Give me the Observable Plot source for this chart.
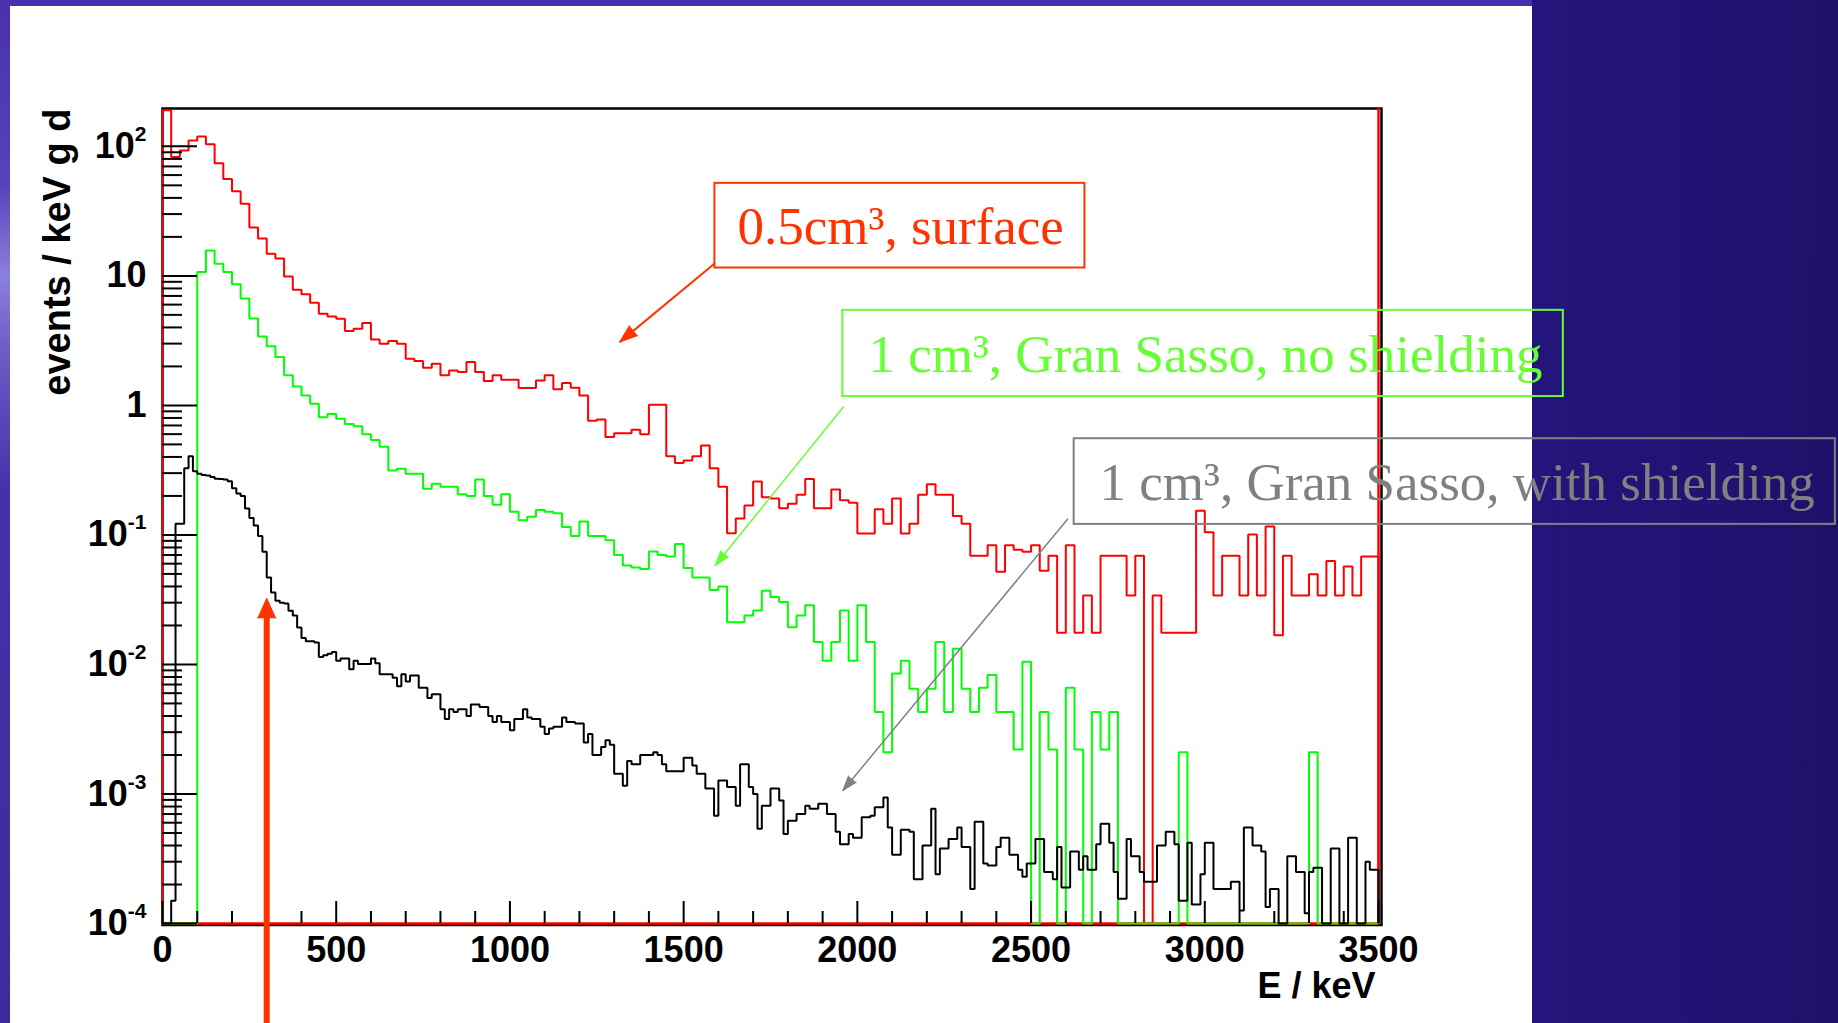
<!DOCTYPE html>
<html>
<head>
<meta charset="utf-8">
<script src="https://cdn.jsdelivr.net/npm/d3@7"></script>
<script src="https://cdn.jsdelivr.net/npm/@observablehq/plot@0.6"></script>
<style>
html, body { margin: 0; padding: 0; overflow: hidden; width: 1838px; height: 1023px; background: #20136e; }
#bg-right { position: absolute; left: 1532px; top: 0; width: 306px; height: 1023px; background: linear-gradient(90deg, #23157b 0%, #201372 60%, #1d116a 100%); }
#bg-top { position: absolute; left: 0; top: 0; width: 1532px; height: 6px; background: #4a30ae; }
#bg-left { position: absolute; left: 0; top: 0; width: 10px; height: 1023px; background: linear-gradient(180deg, #4a30ae 0%, #5444bb 18%, #8a80dc 27%, #6c5ec9 34%, #4631a9 48%, #3d2b9d 100%); }
#panel { position: absolute; left: 10px; top: 6px; width: 1522px; height: 1017px; background: #ffffff; }
#chart { position: absolute; left: 0; top: 0; }
</style>
</head>
<body>
<div id="bg-right"></div>
<div id="bg-top"></div>
<div id="bg-left"></div>
<div id="panel"></div>
<div id="chart"></div>
<script>
// ---------------- data (events / keV g d) ----------------
const binWidthWide = 25;     // keV, red & green histograms
const binWidthFine = 12.5;   // keV, black histogram

// 0.5 cm^3, surface (red), 25 keV bins from 0 to 3500 keV
const surface = [
  190, 82.6, 93, 111,      119, 104, 74, 56,       45, 36, 23.6, 19.4,     14.8, 13.6, 9.9, 7.8,
  7.2, 6.2, 5.1, 4.86,     4.67, 3.75, 3.91, 4.32, 3.22, 2.99, 3.14, 2.99, 2.29, 2.20, 1.95, 2.10,
  1.71, 1.86, 1.81, 2.16,  1.81, 1.54, 1.71, 1.58, 1.58, 1.36, 1.36, 1.56, 1.71, 1.33, 1.49, 1.37,
  1.19, 0.76, 0.78, 0.57,  0.61, 0.61, 0.65, 0.60, 1.01, 1.01, 0.405, 0.359, 0.376, 0.405, 0.49, 0.327,
  0.235, 0.103, 0.134, 0.169, 0.258, 0.195, 0.191, 0.161, 0.174, 0.204, 0.27, 0.161, 0.161, 0.224, 0.185, 0.177,
  0.1025, 0.1025, 0.158, 0.122, 0.191, 0.1025, 0.122, 0.204, 0.246, 0.204, 0.204, 0.14, 0.122, 0.069, 0.069, 0.0834,
  0.052, 0.0834, 0.077, 0.074, 0.0834, 0.053, 0.069, 0.0176, 0.0834, 0.0176, 0.034, 0.0176, 0.069, 0.069, 0.069, 0.034,
  0.069, 0, 0.034, 0.0176, 0.0176, 0.0176, 0.0176, 0.154, 0.105, 0.034, 0.069, 0.069, 0.034, 0.1007, 0.034, 0.116,
  0.0168, 0.069, 0.034, 0.034, 0.0497, 0.034, 0.0628, 0.034, 0.057, 0.034, 0.068, 0.068
];

// 1 cm^3, Gran Sasso, no shielding (green), 25 keV bins
const noShielding = [
  0, 0, 0, 0,              10.7, 15.7, 12.4, 10.7, 8.6, 6.7, 4.68, 3.41, 2.86, 2.36, 1.71, 1.40,
  1.19, 1.03, 0.81, 0.86,  0.79, 0.72, 0.69, 0.60, 0.54, 0.48, 0.315, 0.324, 0.297, 0.297, 0.227, 0.248,
  0.236, 0.236, 0.206, 0.20, 0.268, 0.20, 0.171, 0.206, 0.151, 0.13, 0.138, 0.156, 0.151, 0.147, 0.115, 0.098,
  0.127, 0.098, 0.098, 0.091, 0.070, 0.058, 0.056, 0.0546, 0.0745, 0.070, 0.068, 0.085, 0.0555, 0.047, 0.047, 0.0375,
  0.040, 0.0212, 0.0212, 0.0239, 0.0261, 0.037, 0.0331, 0.0303, 0.0194, 0.0239, 0.0286, 0.0149, 0.0107, 0.0149, 0.0261, 0.0107,
  0.0286, 0.0149, 0.0043, 0.0021, 0.0085, 0.0107, 0.0065, 0.0043, 0.0065, 0.0149, 0.0043, 0.0132, 0.0065, 0.0043, 0.0066, 0.0083,
  0.0043, 0.0043, 0.0022, 0.0105, 0, 0.0043, 0.0022, 0, 0.0066, 0.0022, 0, 0.0043, 0.0022, 0.0043, 0, 0,
  0, 0, 0, 0,              0, 0.0021, 0, 0,        0, 0, 0, 0,             0, 0, 0, 0,
  0, 0, 0, 0,              0.0021, 0, 0, 0,        0, 0, 0, 0
];

// 1 cm^3, Gran Sasso, with shielding (black), 12.5 keV bins
const withShielding = [
  0, 0, 0.00015, 0.122, 0.122, 0.327, 0.405, 0.31,
  0.297, 0.29, 0.287, 0.28, 0.272, 0.27, 0.268, 0.26,
  0.229, 0.209, 0.2, 0.16, 0.135, 0.118, 0.098, 0.074,
  0.047, 0.036, 0.031, 0.03, 0.0296, 0.026, 0.0239, 0.0193,
  0.016, 0.0151, 0.0151, 0.0148, 0.0114, 0.0118, 0.0121, 0.0125,
  0.0107, 0.0111, 0.0111, 0.0092, 0.0107, 0.0101, 0.0101, 0.0101,
  0.0111, 0.0102, 0.0084, 0.0084, 0.0084, 0.0079, 0.0068, 0.0084,
  0.0074, 0.0082, 0.0082, 0.0066, 0.0066, 0.0055, 0.0059, 0.0059,
  0.0045, 0.0038, 0.0045, 0.0043, 0.0045, 0.0045, 0.0040, 0.0049,
  0.0049, 0.0047, 0.0047, 0.0040, 0.0036, 0.0040, 0.0036, 0.0036,
  0.0031, 0.0038, 0.0038, 0.0045, 0.0039, 0.0038, 0.0038, 0.0033,
  0.0029, 0.0032, 0.0033, 0.0033, 0.0039, 0.0036, 0.0036, 0.0035,
  0.0035, 0.0025, 0.0029, 0.0020, 0.0020, 0.0023, 0.0026, 0.0024,
  0.00143, 0.00143, 0.00116, 0.0018, 0.0017, 0.0017, 0.0020, 0.0020,
  0.0020, 0.0021, 0.0020, 0.0017, 0.0015, 0.0015, 0.0015, 0.0015,
  0.0019, 0.0019, 0.00166, 0.00143, 0.00143, 0.0011, 0.0011, 0.00068,
  0.00127, 0.00127, 0.00113, 0.00113, 0.00081, 0.0017, 0.0017, 0.00113,
  0.001, 0.00054, 0.00081, 0.00081, 0.0011, 0.0011, 0.00089, 0.00049,
  0.00062, 0.00062, 0.0007, 0.0007, 0.00081, 0.00077, 0.00077, 0.00084,
  0.00084, 0.0007, 0.0007, 0.00051, 0.00041, 0.00041, 0.00049, 0.00046,
  0.00046, 0.00066, 0.00066, 0.00068, 0.00079, 0.00079, 0.00094, 0.00055,
  0.00034, 0.00034, 0.00053, 0.00053, 0.00051, 0.00022, 0.00022, 0.0004,
  0.0004, 0.00077, 0.00024, 0.00038, 0.00038, 0.00045, 0.00045, 0.00055,
  0.00039, 0.00039, 0.000185, 0.00061, 0.00061, 0.00029, 0.00028, 0.00028,
  0.00039, 0.00046, 0.00046, 0.00034, 0.00034, 0.00026, 0.00023, 0.00029,
  0.00029, 0.00045, 0.00045, 0.00025, 0.00025, 0.00022, 0.00039, 0.00019,
  0.00019, 0.00036, 0.00036, 0.00026, 0.00033, 0.00026, 0.00026, 0.00041,
  0.00059, 0.00059, 0.00042, 0.00025, 0.000155, 0.000155, 0.00045, 0.00033,
  0.00033, 0.00025, 0.00021, 0.00021, 0.00021, 0.0004, 0.0004, 0.00051,
  0.00051, 0.00041, 0.00015, 0.00015, 0.00042, 0.00014, 0.00014, 0.00024,
  0.00042, 0.00042, 0.000185, 0.000185, 0.000185, 0.000185, 0.00021, 0.00021,
  0.000126, 0.00055, 0.00055, 0.0004, 0.0004, 0.00036, 0.000134, 0.000185,
  0.000185, 0, 0, 0.00033, 0.00033, 0.00025, 0.00025, 0.00012,
  0.00025, 0.00027, 0.00027, 0, 0, 0.00038, 0.00038, 0,
  0, 0.00046, 0.00046, 0, 0, 0.0003, 0.00026, 0.00026
];

// axis ticks and labels
const xTickValues = [0, 500, 1000, 1500, 2000, 2500, 3000, 3500];
const xTickLabels = ["0", "500", "1000", "1500", "2000", "2500", "3000", "3500"];
const yTickValues = [1e-4, 1e-3, 1e-2, 1e-1, 1, 10, 100];
const yTickLabels = ["10^-4", "10^-3", "10^-2", "10^-1", "1", "10", "10^2"];
const xTitle = "E / keV";
const yTitle = "events / keV g d";

// callout texts
const calloutTexts = ["0.5cm³, surface", "1 cm³, Gran Sasso, no shielding", "1 cm³, Gran Sasso, with shielding"];

// ---------------- layout / styling ----------------
const W = 1838, H = 1023;
const ML = 162, MR = 460, MT = 108, MB = 100;
const X_MAX = 3500, Y_MIN = 1e-4, Y_MAX = 196;
const plotW = W - ML - MR, plotH = H - MT - MB;
const sans = "'Liberation Sans', Arial, Helvetica, sans-serif";
const serif = "'Liberation Serif', 'Times New Roman', serif";

// callout geometry, in data units (keV, events / keV g d)
const callouts = [
  {text: calloutTexts[0], color: "#ff3300", box: [1590, 2655, 51.8, 11.5], at: [1655, 23.7],
   from: [1590, 12.5], to: [1316, 3.08], lw: 2, head: [18, 6.5]},
  {text: calloutTexts[1], color: "#66ff33", box: [1958, 4032, 5.42, 1.17], at: [2032, 2.445],
   from: [1961, 0.982], to: [1591, 0.0581], lw: 1.5, head: [15, 5]},
  {text: calloutTexts[2], color: "#808080", box: [2624, 4815, 0.553, 0.1206], at: [2697, 0.25],
   from: [2606, 0.1334], to: [1958, 0.00106], lw: 1.5, head: [15, 5]}
];
const marker = {x: 300, tip: 0.0324, base: 0.0235, bottom: 1.69e-5, color: "#ff3300"};

const xs = Plot.scale({x: {domain: [0, X_MAX], range: [ML, W - MR]}});
const ys = Plot.scale({y: {type: "log", domain: [Y_MIN, Y_MAX], range: [H - MB, MT]}});
for (const c of callouts) {
  const dx = xs.apply(c.to[0]) - xs.apply(c.from[0]);
  const dy = ys.apply(c.to[1]) - ys.apply(c.from[1]);
  c.angle = Math.atan2(dx, -dy) * 180 / Math.PI;
}

function histPoints(values, width) {
  const pts = [{x: 0, y: Y_MIN}];
  values.forEach((v, i) => pts.push({x: i * width, y: Math.max(v, Y_MIN)}));
  const end = values.length * width;
  pts.push({x: end, y: Math.max(values[values.length - 1], Y_MIN)});
  pts.push({x: end, y: Y_MIN});
  return pts;
}

const xMinor = d3.range(100, X_MAX, 100).filter(v => v % 500 !== 0);
const yMinor = [];
for (let e = -4; e <= 2; e++) for (let m = 2; m <= 9; m++) {
  const v = m * Math.pow(10, e);
  if (v < Y_MAX) yMinor.push(v);
}

const histStyle = {x: "x", y: "y", curve: "step-after", strokeWidth: 2, strokeLinejoin: "miter", strokeLinecap: "butt"};

const marks = [
  Plot.frame({stroke: "black", strokeWidth: 2.5, insetRight: -3, insetBottom: -1.5}),
  Plot.ruleX([X_MAX], {stroke: "#ff0000", strokeWidth: 2.5}),
  Plot.ruleY([Y_MIN], {stroke: "#ff0000", strokeWidth: 2.5}),
  Plot.line(histPoints(surface, binWidthWide), {...histStyle, stroke: "#ff0000"}),
  Plot.line(histPoints(noShielding, binWidthWide), {...histStyle, stroke: "#00ff00"}),
  Plot.line(histPoints(withShielding, binWidthFine), {...histStyle, stroke: "#000000"}),
  Plot.tickX(xTickValues, {x: d => d, stroke: "black", strokeWidth: 2, insetTop: plotH - 22}),
  Plot.tickX(xMinor, {x: d => d, stroke: "black", strokeWidth: 2, insetTop: plotH - 12}),
  Plot.tickY(yTickValues, {y: d => d, stroke: "black", strokeWidth: 2, insetRight: plotW - 35}),
  Plot.tickY(yMinor, {y: d => d, stroke: "black", strokeWidth: 2, insetRight: plotW - 20}),
  Plot.axisX({ticks: xTickValues, tickFormat: d => xTickLabels[xTickValues.indexOf(d)], tickSize: 0, tickPadding: 13,
    fontSize: 36, fontWeight: "bold", fontFamily: sans, label: null}),
  Plot.axisY({ticks: yTickValues, tickFormat: d => yTickLabels[yTickValues.indexOf(d)], tickSize: 0, tickPadding: 16,
    fontSize: 36, fontWeight: "bold", fontFamily: sans, label: null}),
  Plot.text([yTitle], {text: d => d, frameAnchor: "top-left", rotate: -90, textAnchor: "end", lineAnchor: "middle",
    dx: -105, fontSize: 38, fontWeight: "bold", fontFamily: sans}),
  Plot.text([xTitle], {text: d => d, frameAnchor: "bottom-right", textAnchor: "end", lineAnchor: "top",
    dx: -3, dy: 49, fontSize: 36, fontWeight: "bold", fontFamily: sans})
];

for (const c of callouts) {
  marks.push(
    Plot.rect([c], {x1: d => d.box[0], x2: d => d.box[1], y1: d => d.box[2], y2: d => d.box[3],
      fill: "none", stroke: c.color, strokeWidth: 2}),
    Plot.text([c], {x: d => d.at[0], y: d => d.at[1], text: d => d.text, textAnchor: "start", lineAnchor: "middle",
      fill: c.color, fontSize: 53, fontFamily: serif}),
    Plot.link([c], {x1: d => d.from[0], y1: d => d.from[1], x2: d => d.to[0], y2: d => d.to[1],
      stroke: c.color, strokeWidth: c.lw}),
    Plot.vector([c], {x: d => d.to[0], y: d => d.to[1], rotate: c.angle, length: c.head[0], r: c.head[1],
      anchor: "end", shape: "spike", fill: c.color, stroke: c.color, strokeWidth: 1})
  );
}
marks.push(
  Plot.ruleX([marker], {x: "x", y1: "bottom", y2: "base", stroke: marker.color, strokeWidth: 6}),
  Plot.vector([marker], {x: "x", y: "tip", rotate: 0, length: 20, r: 9, anchor: "end", shape: "spike",
    fill: marker.color, stroke: marker.color, strokeWidth: 1})
);

const chart = Plot.plot({
  width: W, height: H,
  marginLeft: ML, marginRight: MR, marginTop: MT, marginBottom: MB,
  style: {background: "transparent", overflow: "visible", fontFamily: sans},
  x: {domain: [0, X_MAX]},
  y: {type: "log", domain: [Y_MIN, Y_MAX]},
  marks
});

// superscript exponents in the y tick labels
chart.querySelectorAll("text").forEach(t => {
  const m = t.textContent.match(/^(\d+)\^(.+)$/);
  if (m && t.children.length === 0) {
    t.textContent = m[1];
    const ts = document.createElementNS("http://www.w3.org/2000/svg", "tspan");
    ts.setAttribute("dy", "-17");
    ts.setAttribute("font-size", "21");
    ts.textContent = m[2];
    t.appendChild(ts);
  }
});

document.getElementById("chart").appendChild(chart);
</script>
</body>
</html>
